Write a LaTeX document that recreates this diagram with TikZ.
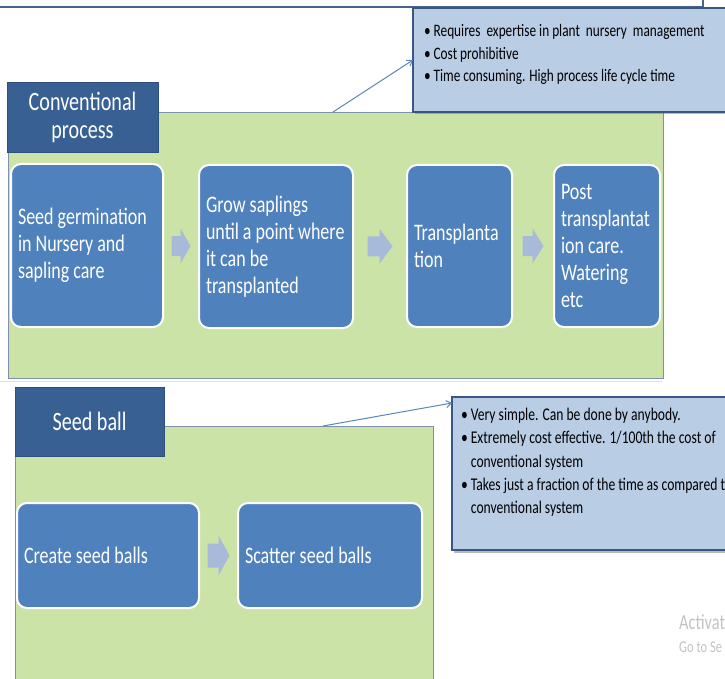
\documentclass[tikz,border=0pt]{standalone}
\usepackage{fontspec}
\setmainfont{Carlito}[FakeStretch=0.76]
\usetikzlibrary{calc,shadows,arrows.meta}
\definecolor{greenfill}{RGB}{203,227,167}
\definecolor{greenline}{RGB}{125,145,175}
\definecolor{titlefill}{RGB}{56,96,146}
\definecolor{titleline}{RGB}{45,80,125}
\definecolor{boxfill}{RGB}{79,129,189}
\definecolor{arrowfill}{RGB}{167,186,218}
\definecolor{calloutfill}{RGB}{185,205,229}
\definecolor{calloutline}{RGB}{56,87,130}
\definecolor{connline}{RGB}{90,135,190}
\definecolor{frameline}{RGB}{70,100,140}
\definecolor{faintline}{RGB}{215,228,238}
\definecolor{wmgray}{RGB}{195,195,195}
\newcommand\bxfont{\fontsize{23.7}{27.2}\selectfont}
\newcommand\ttlfont{\fontsize{26.5}{28}\selectfont}
\newcommand\clfonta{\fontsize{17.5}{22.5}\selectfont}
\newcommand\clfontb{\fontsize{17.9}{23.3}\selectfont}
\newcommand\flowarr[6]{%
  \fill[flowarrow] ($(#1.east)!0.5!(#2.west)$) ++({-(#3)/2},{-(#5)}) -- ++({(#3)-(#4)},0)
    -- ++(0,{(#5)-(#6)}) -- ++({#4},{#6}) -- ++({-(#4)},{#6}) -- ++(0,{(#5)-(#6)})
    -- ++({-((#3)-(#4))},0) -- cycle;}
\begin{document}
\begin{tikzpicture}[x=1pt,y=-1pt,
  greenbox/.style={draw=greenline, line width=0.8pt, fill=greenfill, inner sep=0pt, outer sep=0pt, anchor=north west},
  titlebox/.style={fill=titlefill, draw=titleline, line width=0.6pt, text=white, inner sep=0pt, outer sep=0pt, anchor=north west, align=center, font=\ttlfont},
  stepbox/.style={fill=boxfill, draw=white, line width=2pt, rounded corners=10pt, text=white, anchor=north west, inner xsep=7pt, inner ysep=0pt, outer sep=0pt, align=flush left, font=\bxfont},
  callout/.style={fill=calloutfill, draw=calloutline, line width=1.8pt, anchor=north west, inner sep=0pt, outer sep=0pt, drop shadow={shadow xshift=2pt, shadow yshift=-2.5pt, opacity=0.45, fill=black!60}},
  callouttext/.style={anchor=north west, inner sep=0pt, outer sep=0pt, align=left},
  conn/.style={draw=connline, line width=1pt, -{Straight Barb[length=5pt,width=7pt]}},
  flowarrow/.style={fill=arrowfill},
  wm/.style={text=wmgray, anchor=west, inner sep=0pt}
]
\useasboundingbox (0,0) rectangle (725,679);
\fill[white] (0,0) rectangle (725,679);

% top frame
\draw[frameline, line width=2pt] (0,7.5) -| (703,-3);

% green panels
\node[greenbox, minimum width=655pt, minimum height=266pt] (g1) at (8,112) {};
\draw[faintline, line width=1pt] (0,381) -- (662,381);
\node[greenbox, minimum width=418pt, minimum height=300pt] (g2) at (15,426) {};

% titles
\node[titlebox, minimum width=151pt, minimum height=70pt] (t1) at (7,82) {Conventional\\process};
\node[titlebox, minimum width=149pt, minimum height=69pt] (t2) at (15,387) {Seed ball};

% process steps
\node[stepbox, minimum width=152pt, minimum height=163pt, text width=138pt] (b1) at (11,164) {Seed germination\\in Nursery and\\sapling care};
\node[stepbox, minimum width=154pt, minimum height=163pt, text width=140pt] (b2) at (199,165) {Grow saplings\\until a point where\\it can be\\transplanted};
\node[stepbox, minimum width=105pt, minimum height=162pt, text width=91pt] (b3) at (407,165) {Transplanta\\tion};
\node[stepbox, minimum width=106pt, minimum height=162pt, text width=92pt] (b4) at (554,165) {Post\\transplantat\\ion care.\\Watering\\etc};

\node[stepbox, minimum width=182pt, minimum height=105pt, text width=168pt] (s1) at (17,503) {Create seed balls};
\node[stepbox, minimum width=184pt, minimum height=105pt, text width=170pt] (s2) at (238,503) {Scatter seed balls};

% flow arrows
\flowarr{b1}{b2}{19}{10}{10}{17.5}
\flowarr{b2}{b3}{25}{13}{10}{17.5}
\flowarr{b3}{b4}{21}{11}{10}{17.5}
\flowarr{s1}{s2}{22}{11}{12}{20}

% callouts
\coordinate (c1s) at (333,112);
\coordinate (c2s) at (323,426);
\node[callout, minimum width=330pt, minimum height=104pt] (co1) at (413,8) {};
\node[callout, minimum width=300pt, minimum height=153pt] (co2) at (452,397) {};
\coordinate (c2e) at ($(co2.north west)+(0,6)$);
\draw[conn] (c1s) -- (co1.west);
\draw[conn] (c2s) -- (c2e);

\node[callouttext, font=\clfonta] (ct1) at (424,24.5) {•\ Requires\ \ expertise in plant\ \ nursery\ \ management\\•\ Cost prohibitive\\•\ Time consuming. High process life cycle time};
\node[callouttext, font=\clfontb] (ct2) at (461,408) {•\ Very simple. Can be done by anybody.\\•\ Extremely cost effective. 1/100th the cost of\\\hphantom{•\ }conventional system\\•\ Takes just a fraction of the time as compared t\\\hphantom{•\ }conventional system};

% watermark
\node[wm, font=\fontsize{21.5}{21.5}\selectfont] (wm1) at (679,622) {Activat};
\node[wm, font=\fontsize{16.5}{16.5}\selectfont] (wm2) at (679,647) {Go to Se};
\end{tikzpicture}
\end{document}
